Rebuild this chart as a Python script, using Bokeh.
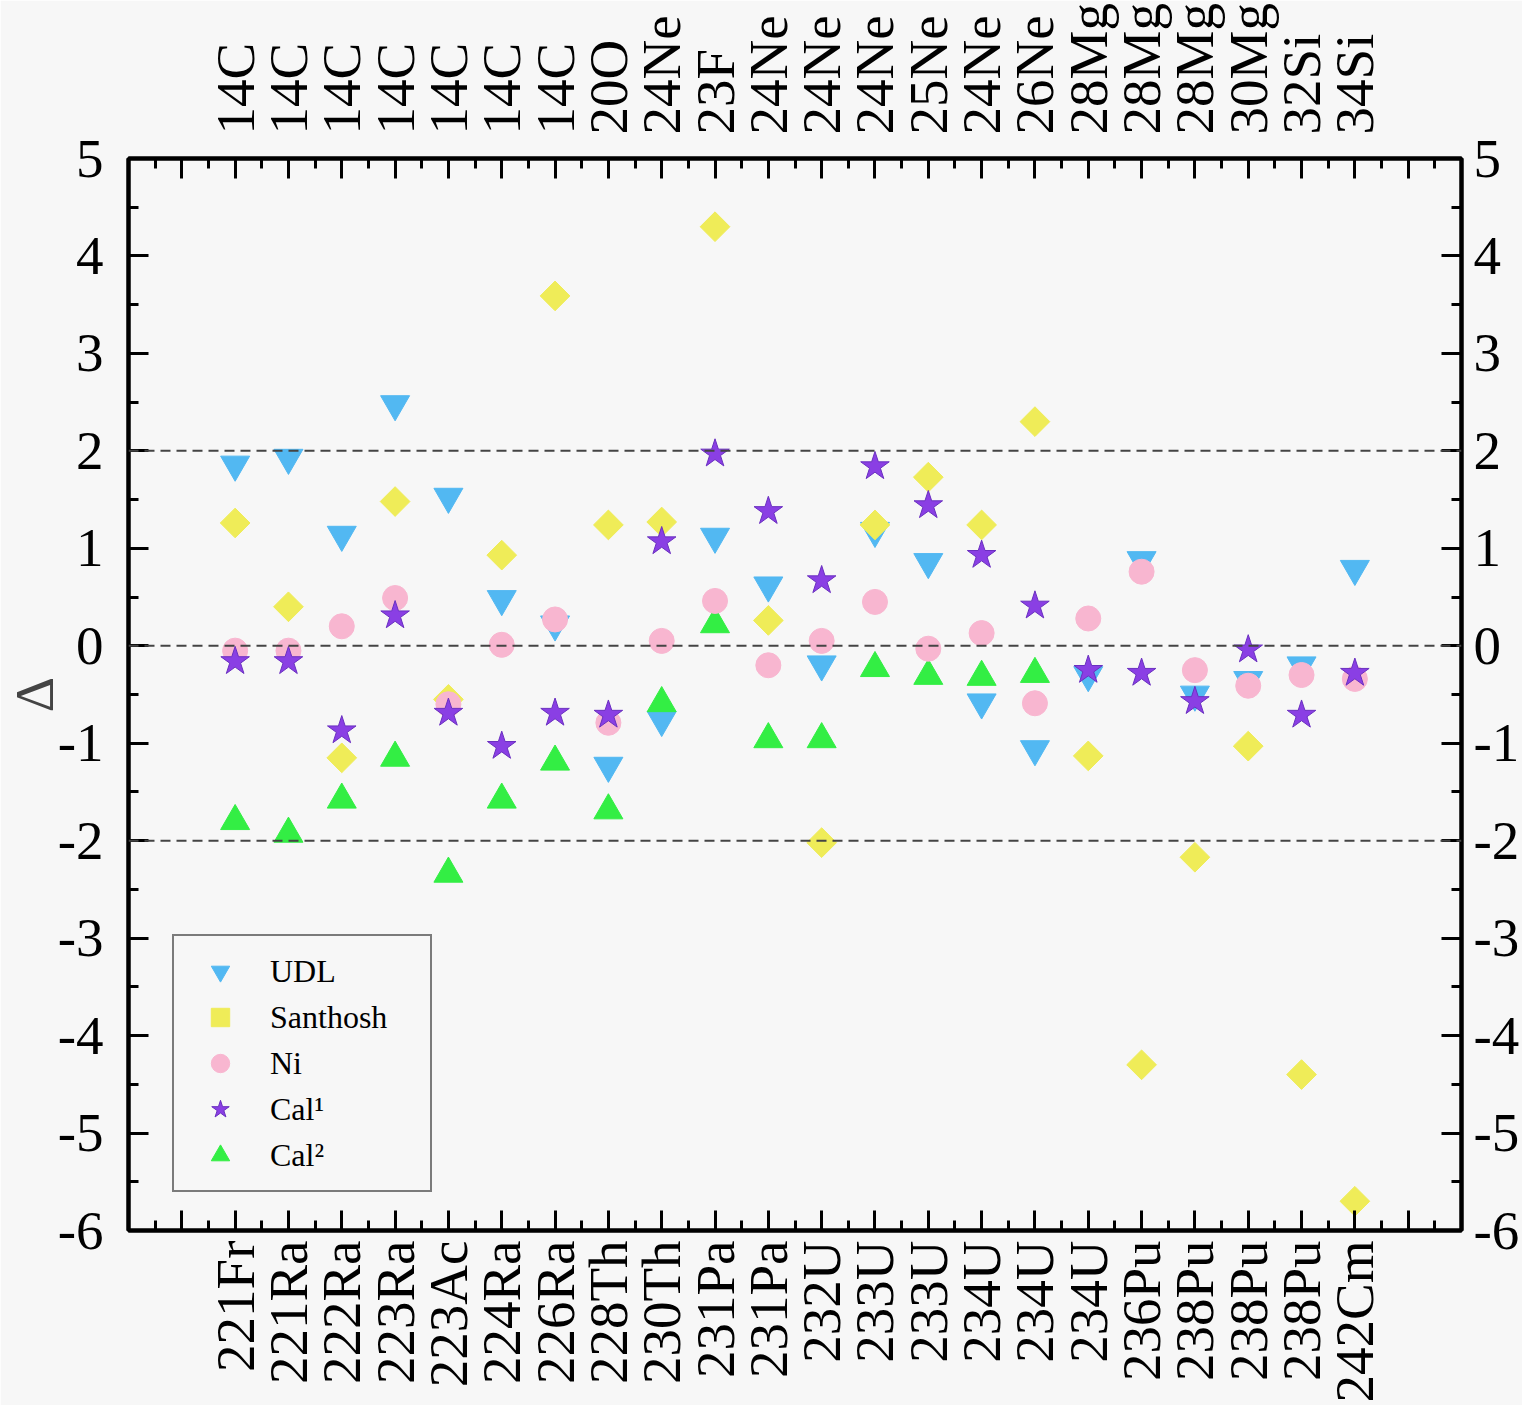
import numpy as np
from bokeh.plotting import figure
from bokeh.models import LinearAxis, FixedTicker, Span
from bokeh.embed import file_html
from bokeh.resources import INLINE

nan = float("nan")

parents = ["221Fr", "221Ra", "222Ra", "223Ra", "223Ac", "224Ra", "226Ra", "228Th",
           "230Th", "231Pa", "231Pa", "232U", "233U", "233U", "234U", "234U", "234U",
           "236Pu", "238Pu", "238Pu", "238Pu", "242Cm"]
clusters = ["14C", "14C", "14C", "14C", "14C", "14C", "14C", "20O",
            "24Ne", "23F", "24Ne", "24Ne", "24Ne", "25Ne", "24Ne", "26Ne", "28Mg",
            "28Mg", "28Mg", "30Mg", "32Si", "34Si"]

udl = [1.86, 1.93, 1.14, 2.48, 1.53, 0.48, 0.22, -1.23, -0.76, 1.12, 0.62, -0.19,
       1.18, 0.86, -0.58, -1.06, -0.30, 0.88, -0.50, -0.35, -0.20, 0.79]
santhosh = [1.26, 0.40, -1.15, 1.48, -0.55, 0.93, 3.59, 1.24, 1.27, 4.30, 0.26, -2.02,
            1.24, 1.73, 1.24, 2.30, -1.13, -4.30, -2.17, -1.03, -4.40, -5.70]
ni = [-0.05, -0.05, 0.20, 0.49, -0.60, 0.01, 0.27, -0.79, 0.05, 0.46, -0.20, 0.05,
      0.45, -0.03, 0.13, -0.59, 0.28, 0.76, -0.25, -0.41, -0.30, -0.34]
cal1 = [-0.16, -0.16, -0.87, 0.31, -0.69, -1.03, -0.69, -0.71, 1.07, 1.97, 1.38, 0.67,
        1.84, 1.44, 0.93, 0.41, -0.25, -0.28, -0.57, -0.04, -0.71, -0.28]
cal2 = [-1.80, -1.93, -1.58, -1.15, -2.34, -1.58, -1.19, -1.69, -0.59, 0.22, -0.96, -0.96,
        -0.23, -0.31, -0.32, -0.29, nan, nan, nan, nan, nan, nan]

ref_lines = [2, 0, -2]
y_major = list(range(-6, 6))

FONT = "Liberation Serif"
BG = "#f7f7f7"

x = np.arange(1, len(parents) + 1)
n = len(parents)

p = figure(width=1522, height=1405, x_range=(-1, n + 2), y_range=(-6, 5),
           output_backend="svg", toolbar_location=None, min_border=0,
           background_fill_color=BG, border_fill_color=BG)
p.xgrid.visible = False
p.ygrid.visible = False
p.outline_line_color = "black"
p.outline_line_width = 4

bottom_axis = p.below[0]
left_axis = p.left[0]
top_axis = LinearAxis()
right_axis = LinearAxis()
p.add_layout(top_axis, "above")
p.add_layout(right_axis, "right")

x_ticks = list(range(0, n + 2))
x_minor = [i + 0.5 for i in range(-1, n + 2)]
y_minor = [v + 0.5 for v in y_major[:-1]]

bottom_labels = {i: "" for i in x_ticks}
top_labels = {i: "" for i in x_ticks}
for i, (a, b) in enumerate(zip(parents, clusters), start=1):
    bottom_labels[i] = a
    top_labels[i] = b
y_labels = {v: str(v) for v in y_major}

def style(ax):
    ax.axis_line_width = 4
    ax.axis_line_color = "black"
    ax.major_tick_in = 20
    ax.major_tick_out = 0
    ax.minor_tick_in = 10
    ax.minor_tick_out = 0
    ax.major_tick_line_width = 3
    ax.minor_tick_line_width = 3
    ax.major_label_text_font = FONT
    ax.major_label_text_font_size = "55px"
    ax.major_label_text_color = "black"

for ax in [bottom_axis, top_axis]:
    style(ax)
    ax.ticker = FixedTicker(ticks=x_ticks, minor_ticks=x_minor)
bottom_axis.major_label_orientation = np.pi / 2
top_axis.major_label_orientation = "vertical"
bottom_axis.major_label_overrides = bottom_labels
top_axis.major_label_overrides = top_labels
bottom_axis.major_label_standoff = 10
top_axis.major_label_standoff = 24

for ax in [left_axis, right_axis]:
    style(ax)
    ax.ticker = FixedTicker(ticks=y_major, minor_ticks=y_minor)
    ax.major_label_overrides = y_labels
left_axis.major_label_standoff = 25
right_axis.major_label_standoff = 12
left_axis.axis_label = "Δ"
left_axis.axis_label_text_font = FONT
left_axis.axis_label_text_font_size = "55px"
left_axis.axis_label_text_font_style = "normal"
left_axis.axis_label_standoff = -10

for v in ref_lines:
    p.add_layout(Span(location=v, dimension="width", line_color="#444444",
                      line_dash="10 6", line_width=2))

r_udl = p.scatter(x, udl, marker="inverted_triangle", size=29, fill_color="#52b8f2",
                  line_color="#52b8f2", legend_label="UDL")
r_san = p.scatter(x, santhosh, marker="square", angle=np.pi / 4, size=21,
                  fill_color="#efec58", line_color="#efec58", legend_label="Santhosh")
r_cal2 = p.scatter(x, cal2, marker="triangle", size=29, fill_color="#33ee44",
                   line_color="#33ee44")
r_ni = p.scatter(x, ni, marker="circle", size=25, fill_color="#f8b6d0",
                 line_color="#f8b6d0", legend_label="Ni")
r_cal1 = p.scatter(x, cal1, marker="star", size=30, fill_color="#8a3fe4",
                   line_color="#6a2fc0", legend_label="Cal¹")

lg = p.legend[0]
from bokeh.models import LegendItem
lg.items.append(LegendItem(label="Cal²", renderers=[r_cal2]))
lg.location = (44, 38)
lg.margin = 0
lg.padding = 12
lg.spacing = 0
lg.glyph_width = 68
lg.glyph_height = 46
lg.label_height = 46
lg.label_width = 148
lg.label_standoff = 16
lg.label_text_font = FONT
lg.label_text_font_size = "32px"
lg.label_text_color = "black"
lg.border_line_color = "black"
lg.border_line_width = 2
lg.background_fill_color = BG
lg.background_fill_alpha = 1.0

open("out.html", "w").write(file_html(p, INLINE))
